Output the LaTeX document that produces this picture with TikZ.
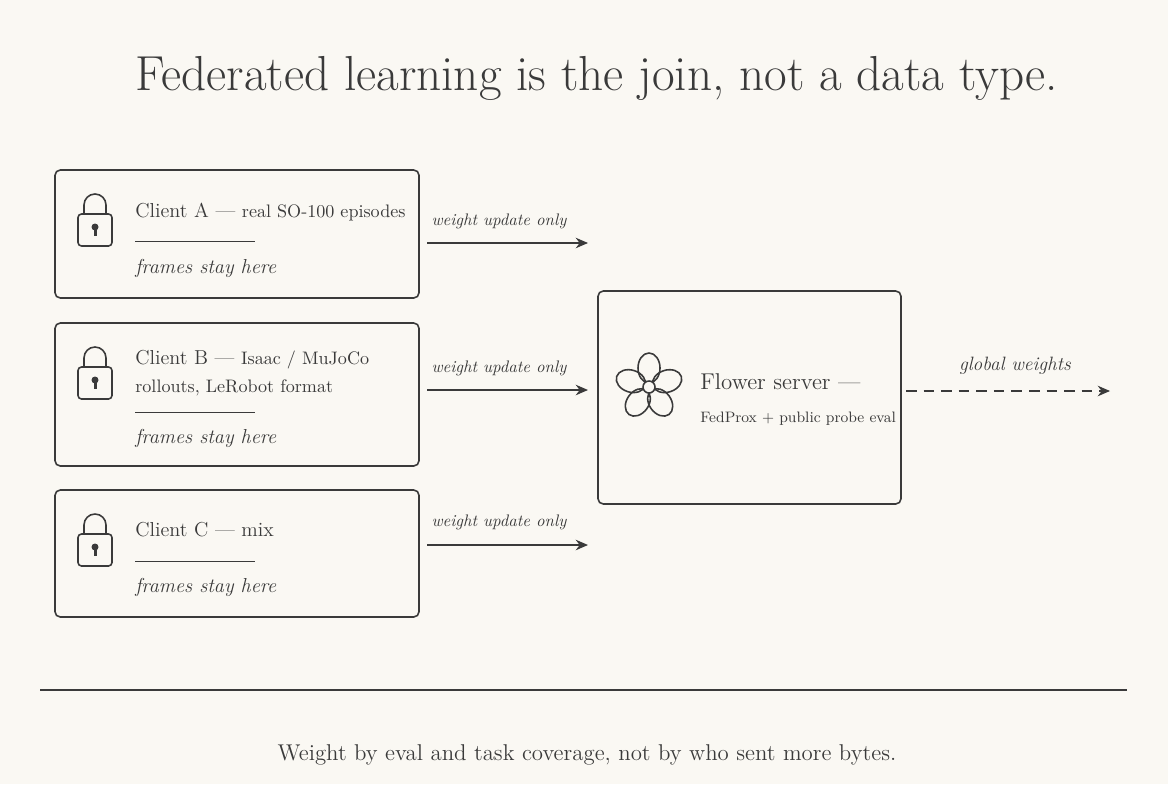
\documentclass[tikz,border=0pt]{standalone}
\usetikzlibrary{positioning,arrows.meta,calc}
\definecolor{paper}{HTML}{FAF8F3}
\definecolor{ink}{HTML}{3A3A3A}
\tikzset{
  box/.style={draw=ink, line width=0.9pt, rounded corners=3pt},
  flow/.style={draw=ink, line width=0.9pt, -{Stealth[length=7pt,width=6pt]}},
  tag/.style={text=ink, font=\fontsize{9.5}{11}\selectfont\itshape, anchor=base},
  body/.style={text=ink, font=\fontsize{11.5}{14}\selectfont, anchor=base west, inner sep=0pt},
  stay/.style={text=ink, font=\fontsize{11.5}{14}\selectfont\itshape, anchor=base west, inner sep=0pt}
}
\newcommand{\lockicon}[1]{%
  \draw[ink, line width=0.9pt, rounded corners=2pt] ($(#1)+(-17,0)$) rectangle ++(34,32);
  \draw[ink, line width=0.9pt] ($(#1)+(-11,0)$) -- ++(0,-9) arc (180:360:11) -- ++(0,9);
  \fill[ink] ($(#1)+(0,13)$) circle (3.5);
  \fill[ink] ($(#1)+(-1.5,14)$) rectangle ++(3,8);
}
\begin{document}
\begin{tikzpicture}[x=0.02cm, y=-0.02cm]
  \fill[paper] (0,0) rectangle (1168,784);
  \useasboundingbox (0,0) rectangle (1168,784);
  % title
  \node[text=ink, font=\fontsize{28}{33}\selectfont] (title) at (597,78) {Federated learning is the join, not a data type.};
  % clients
  \draw[box] (55,170) rectangle (419,298);
  \draw[box] (55,323) rectangle (419,466);
  \draw[box] (55,490) rectangle (419,617);
  \coordinate (lockA) at (95,214);
  \coordinate (lockB) at (95,367);
  \coordinate (lockC) at (95,534);
  \lockicon{lockA}
  \lockicon{lockB}
  \lockicon{lockC}
  \node[body] (ca) at (135,217) {Client A --- {\fontsize{10.3}{13}\selectfont real SO-100 episodes}};
  \draw[ink, line width=0.5pt] (135,241) -- (255,241);
  \node[stay] (sa) at (135,273) {frames stay here};
  \node[body] (cb) at (135,364) {Client B --- {\fontsize{10.3}{13}\selectfont Isaac / MuJoCo}};
  \node[body] (cb2) at (135,392) {\fontsize{10.3}{13}\selectfont rollouts, LeRobot format};
  \draw[ink, line width=0.5pt] (135,412) -- (255,412);
  \node[stay] (sb) at (135,443) {frames stay here};
  \node[body] (cc) at (135,536) {Client C --- mix};
  \draw[ink, line width=0.5pt] (135,561) -- (255,561);
  \node[stay] (sc) at (135,592) {frames stay here};
  % arrows
  \coordinate (a1) at (427,243); \coordinate (b1) at (588,243);
  \coordinate (a2) at (427,390); \coordinate (b2) at (588,390);
  \coordinate (a3) at (427,545); \coordinate (b3) at (588,545);
  \draw[flow] (a1) -- (b1);
  \draw[flow] (a2) -- (b2);
  \draw[flow] (a3) -- (b3);
  \node[tag] (t1) at (499,225) {weight update only};
  \node[tag] (t2) at (499,372) {weight update only};
  \node[tag] (t3) at (499,526) {weight update only};
  % server
  \draw[box] (598,291) rectangle (901,504);
  \coordinate (flower) at (649,387);
  \foreach \a in {0,72,144,216,288}
    \draw[ink, line width=0.9pt, rotate around={\a:(flower)}] ($(flower)+(0,-19)$) ellipse (11 and 15);
  \draw[ink, line width=0.9pt, fill=paper] (flower) circle (6);
  \node[body, font=\fontsize{13}{15}\selectfont] (srv) at (700,389) {Flower server ---};
  \node[body, font=\fontsize{8.6}{11}\selectfont] (srv2) at (700,422) {FedProx + public probe eval};
  % global
  \coordinate (g1) at (906,391); \coordinate (g2) at (1110,391);
  \draw[flow, dashed, dash pattern=on 6pt off 4pt] (g1) -- (g2);
  \node[tag, font=\fontsize{11}{13}\selectfont\itshape] (gw) at (1015,370) {global weights};
  % footer
  \draw[ink, line width=1pt] (40,690) -- (1127,690);
  \node[text=ink, font=\fontsize{13}{16}\selectfont] (foot) at (587,755) {Weight by eval and task coverage, not by who sent more bytes.};
\end{tikzpicture}
\end{document}
